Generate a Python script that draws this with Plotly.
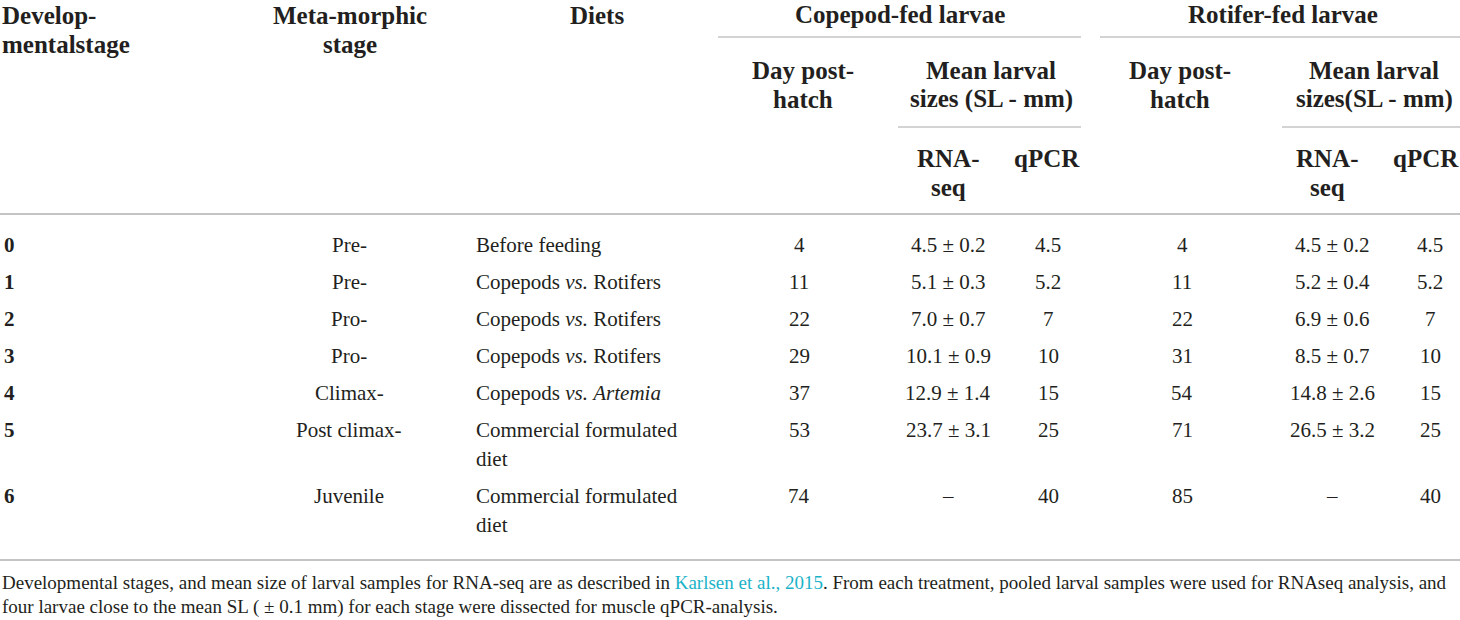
import textwrap
import plotly.graph_objects as go

# ---------------- data ----------------
stages = ["0", "1", "2", "3", "4", "5", "6"]
meta_stages = ["Pre-", "Pre-", "Pro-", "Pro-", "Climax-", "Post climax-", "Juvenile"]
diets = [
    "Before feeding",
    "Copepods <i>vs.</i> Rotifers",
    "Copepods <i>vs.</i> Rotifers",
    "Copepods <i>vs.</i> Rotifers",
    "Copepods <i>vs.</i> <i>Artemia</i>",
    "Commercial formulated diet",
    "Commercial formulated diet",
]
cope_dph = [4, 11, 22, 29, 37, 53, 74]
cope_sl_mean = [4.5, 5.1, 7.0, 10.1, 12.9, 23.7, None]
cope_sl_sd = [0.2, 0.3, 0.7, 0.9, 1.4, 3.1, None]
cope_qpcr = [4.5, 5.2, 7, 10, 15, 25, 40]
rot_dph = [4, 11, 22, 31, 54, 71, 85]
rot_sl_mean = [4.5, 5.2, 6.9, 8.5, 14.8, 26.5, None]
rot_sl_sd = [0.2, 0.4, 0.6, 0.7, 2.6, 3.2, None]
rot_qpcr = [4.5, 5.2, 7, 10, 15, 25, 40]

header_top = ["Develop-\nmentalstage", "Meta-morphic\nstage", "Diets",
              "Copepod-fed larvae", "Rotifer-fed larvae"]
header_mid = ["Day post-\nhatch", "Mean larval\nsizes (SL - mm)",
              "Day post-\nhatch", "Mean larval\nsizes(SL - mm)"]
header_low = ["RNA-\nseq", "qPCR", "RNA-\nseq", "qPCR"]

footnote_1 = ("Developmental stages, and mean size of larval samples for RNA-seq are as described in ")
footnote_link = "Karlsen et al., 2015"
footnote_2 = (". From each treatment, pooled larval samples were used for RNAseq analysis, and")
footnote_3 = "four larvae close to the mean SL ( ± 0.1 mm) for each stage were dissected for muscle qPCR-analysis."

# ---------------- styling ----------------
W, H = 1460, 620
FONT = "Liberation Serif"
TXT = "#231f20"
LINE = "#c4c4c4"
HSIZE = 25
BSIZE = 21
FSIZE = 19
LINE_H = 29

annotations = []
shapes = []


def add_text(text, x, y, anchor="center", size=BSIZE, bold=False, color=TXT):
    lines = text.split("\n")
    for i, ln in enumerate(lines):
        t = f"<b>{ln}</b>" if bold else ln
        annotations.append(dict(
            x=x, y=y + i * LINE_H, xref="x", yref="y", text=t, showarrow=False,
            xanchor=anchor, yanchor="middle",
            font=dict(family=FONT, size=size, color=color),
        ))


def hline(x0, x1, y, w=1.5):
    shapes.append(dict(type="line", xref="x", yref="y", x0=x0, x1=x1, y0=y, y1=y,
                       line=dict(color=LINE, width=w)))


# header
add_text(header_top[0], 0, 15, anchor="left", size=HSIZE, bold=True)
add_text(header_top[1], 350, 15, size=HSIZE, bold=True)
add_text(header_top[2], 597, 15, size=HSIZE, bold=True)
add_text(header_top[3], 900, 14, size=HSIZE, bold=True)
add_text(header_top[4], 1283, 14, size=HSIZE, bold=True)
hline(718, 1081, 37)
hline(1100, 1460, 37)

add_text(header_mid[0], 803, 70, size=HSIZE, bold=True)
add_text(header_mid[1], 991, 70, size=HSIZE, bold=True)
add_text(header_mid[2], 1180, 70, size=HSIZE, bold=True)
add_text(header_mid[3], 1374, 70, size=HSIZE, bold=True)
hline(898, 1081, 127)
hline(1282, 1460, 127)

add_text(header_low[0], 948, 158, size=HSIZE, bold=True)
add_text(header_low[1], 1047, 158, size=HSIZE, bold=True)
add_text(header_low[2], 1327, 158, size=HSIZE, bold=True)
add_text(header_low[3], 1426, 158, size=HSIZE, bold=True)
hline(0, W, 214, 2)

# body
def fmt_sl(m, s):
    return "–" if m is None else f"{m:.1f} ± {s:.1f}"


y = 245
for i in range(len(stages)):
    diet_txt = "\n".join(textwrap.wrap(diets[i], 22)) if "<i>" not in diets[i] else diets[i]
    add_text(stages[i], 2, y, anchor="left", bold=True)
    add_text(meta_stages[i], 349, y)
    add_text(diet_txt, 474, y, anchor="left")
    add_text(f"{cope_dph[i]}", 799, y)
    add_text(fmt_sl(cope_sl_mean[i], cope_sl_sd[i]), 948, y)
    add_text(f"{cope_qpcr[i]:g}", 1048, y)
    add_text(f"{rot_dph[i]}", 1182, y)
    add_text(fmt_sl(rot_sl_mean[i], rot_sl_sd[i]), 1332, y)
    add_text(f"{rot_qpcr[i]:g}", 1430, y)
    nlines = diet_txt.count("\n") + 1
    y += 37 + (nlines - 1) * LINE_H

hline(0, W, 560, 2)

# footnote
annotations.append(dict(
    x=0, y=582, xref="x", yref="y", showarrow=False, xanchor="left", yanchor="middle",
    text=footnote_1 + f"<span style='color:#1ab3c8'>{footnote_link}</span>" + footnote_2,
    font=dict(family=FONT, size=FSIZE, color=TXT),
))
annotations.append(dict(
    x=0, y=607, xref="x", yref="y", showarrow=False, xanchor="left", yanchor="middle",
    text=footnote_3, font=dict(family=FONT, size=FSIZE, color=TXT),
))

fig = go.Figure()
fig.update_layout(
    width=W, height=H, margin=dict(l=0, r=0, t=0, b=0),
    paper_bgcolor="white", plot_bgcolor="white",
    xaxis=dict(range=[0, W], visible=False, fixedrange=True),
    yaxis=dict(range=[H, 0], visible=False, fixedrange=True),
    annotations=annotations, shapes=shapes, showlegend=False,
)
fig.write_html(
    "out.html",
    config={"displayModeBar": False},
    post_script="document.body.style.margin='0';document.body.style.overflow='hidden';",
)
